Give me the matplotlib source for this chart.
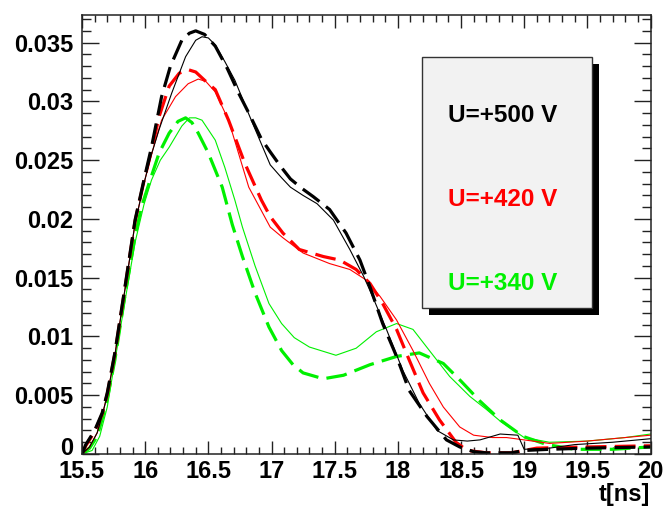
import matplotlib
matplotlib.use("Agg")
import matplotlib.pyplot as plt
from matplotlib.patches import Rectangle
from matplotlib.ticker import MultipleLocator, FixedLocator, FixedFormatter
from matplotlib.transforms import ScaledTranslation, blended_transform_factory

# ---------------- data ----------------
t_b_dash = [15.50, 15.53, 15.60, 15.66, 15.70, 15.76, 15.84, 15.92, 15.99, 16.05, 16.13, 16.20, 16.29, 16.35,
            16.40, 16.47, 16.555, 16.65, 16.74, 16.83, 16.92, 16.99, 17.07, 17.15, 17.24, 17.33, 17.46, 17.59,
            17.70, 17.78, 17.88, 17.99, 18.09, 18.23, 18.385, 18.49, 18.60, 18.70, 18.90, 19.00, 19.20, 19.50, 20.00]
v_b_dash = [0.0000, 0.0008, 0.0020, 0.0035, 0.0052, 0.0086, 0.0142, 0.0199, 0.0233, 0.0261, 0.0304, 0.0330, 0.0352, 0.0358,
            0.0360, 0.0357, 0.0347, 0.0328, 0.0307, 0.0288, 0.0268, 0.0257, 0.0245, 0.0234, 0.0226, 0.0219, 0.0208, 0.0188,
            0.0165, 0.0142, 0.0111, 0.0083, 0.0054, 0.0032, 0.0012, 0.0006, 0.0002, 0.0001, 0.0001, 0.0003, 0.0004, 0.0005, 0.0006]

t_b_sol = [15.50, 15.56, 15.62, 15.66, 15.70, 15.76, 15.84, 15.92, 15.99, 16.05, 16.11, 16.21, 16.32, 16.40, 16.45,
           16.50, 16.555, 16.63, 16.71, 16.84, 16.99, 17.08, 17.15, 17.25, 17.36, 17.49, 17.62, 17.73, 17.80, 17.91,
           18.04, 18.17, 18.31, 18.44, 18.55, 18.65, 18.81, 18.95, 19.00, 19.20, 19.40, 19.70, 20.00]
v_b_sol = [0.0000, 0.0006, 0.0018, 0.0033, 0.0050, 0.0084, 0.0140, 0.0196, 0.0230, 0.0255, 0.0276, 0.0307, 0.0338, 0.0352, 0.0355,
           0.0354, 0.0348, 0.0334, 0.0318, 0.0284, 0.0246, 0.0235, 0.0227, 0.0220, 0.0213, 0.0199, 0.0174, 0.0151, 0.0134, 0.0106,
           0.0071, 0.0043, 0.0020, 0.0012, 0.0011, 0.0012, 0.0017, 0.0016, 0.0004, 0.0005, 0.0008, 0.0010, 0.0013]

t_r_dash = [15.50, 15.53, 15.60, 15.66, 15.70, 15.76, 15.84, 15.92, 15.99, 16.05, 16.11, 16.19, 16.27, 16.34, 16.40,
            16.47, 16.555, 16.66, 16.79, 16.92, 16.99, 17.09, 17.22, 17.41, 17.54, 17.67, 17.78, 17.88, 17.99, 18.09,
            18.20, 18.33, 18.46, 18.55, 18.70, 18.90, 19.10, 19.50, 20.00]
v_r_dash = [0.0000, 0.0007, 0.0019, 0.0034, 0.0051, 0.0085, 0.0141, 0.0198, 0.0232, 0.0258, 0.0287, 0.0313, 0.0324, 0.0327, 0.0325,
            0.0318, 0.0310, 0.0284, 0.0247, 0.0216, 0.0202, 0.0188, 0.0174, 0.0168, 0.0165, 0.0157, 0.0145, 0.0128, 0.0106, 0.0080,
            0.0052, 0.0029, 0.0010, 0.0003, 0.0001, 0.0001, 0.0005, 0.0006, 0.0007]

t_r_sol = [15.50, 15.56, 15.62, 15.66, 15.70, 15.76, 15.84, 15.92, 15.99, 16.05, 16.13, 16.24, 16.34, 16.42, 16.48,
           16.555, 16.66, 16.82, 16.99, 17.09, 17.25, 17.46, 17.62, 17.75, 17.86, 17.99, 18.12, 18.25, 18.36, 18.49,
           18.60, 18.75, 18.86, 19.00, 19.20, 19.50, 19.80, 20.00]
v_r_sol = [0.0000, 0.0006, 0.0018, 0.0033, 0.0050, 0.0084, 0.0140, 0.0196, 0.0230, 0.0255, 0.0284, 0.0304, 0.0315, 0.0319, 0.0317,
           0.0308, 0.0284, 0.0227, 0.0193, 0.0184, 0.0171, 0.0162, 0.0157, 0.0148, 0.0134, 0.0114, 0.0088, 0.0060, 0.0040, 0.0023,
           0.0016, 0.0014, 0.0014, 0.0012, 0.0009, 0.0011, 0.0014, 0.0016]

t_g_dash = [15.50, 15.56, 15.62, 15.66, 15.70, 15.76, 15.84, 15.92, 15.97, 16.03, 16.11, 16.19, 16.26, 16.32, 16.37,
            16.42, 16.50, 16.61, 16.69, 16.77, 16.87, 16.98, 17.08, 17.17, 17.25, 17.41, 17.57, 17.78, 17.99, 18.17,
            18.36, 18.50, 18.65, 18.81, 18.99, 19.18, 19.40, 19.70, 20.00]
v_g_dash = [0.0000, 0.0005, 0.0015, 0.0030, 0.0047, 0.0080, 0.0135, 0.0185, 0.0210, 0.0230, 0.0256, 0.0273, 0.0283, 0.0286, 0.0282,
            0.0273, 0.0256, 0.0227, 0.0195, 0.0168, 0.0137, 0.0108, 0.0088, 0.0076, 0.0069, 0.0064, 0.0067, 0.0076, 0.0083, 0.0086,
            0.0077, 0.0062, 0.0045, 0.0029, 0.0015, 0.0008, 0.0004, 0.0004, 0.0006]

t_g_sol = [15.50, 15.58, 15.64, 15.70, 15.74, 15.84, 15.92, 15.99, 16.05, 16.12, 16.19, 16.29, 16.35, 16.40, 16.45,
           16.555, 16.63, 16.71, 16.77, 16.87, 16.98, 17.08, 17.18, 17.30, 17.51, 17.67, 17.83, 17.99, 18.12, 18.25,
           18.41, 18.57, 18.70, 18.81, 19.00, 19.20, 19.50, 19.80, 20.00]
v_g_sol = [0.0000, 0.0003, 0.0015, 0.0040, 0.0066, 0.0130, 0.0180, 0.0212, 0.0233, 0.0250, 0.0261, 0.0279, 0.0286, 0.0286, 0.0284,
           0.0267, 0.0244, 0.0216, 0.0193, 0.0160, 0.0128, 0.0111, 0.0099, 0.0091, 0.0084, 0.0090, 0.0104, 0.0111, 0.0106, 0.0088,
           0.0066, 0.0049, 0.0038, 0.0028, 0.0014, 0.0010, 0.0011, 0.0014, 0.0017]

x_ticks = [15.5, 16, 16.5, 17, 17.5, 18, 18.5, 19, 19.5, 20]
x_labels = ["15.5", "16", "16.5", "17", "17.5", "18", "18.5", "19", "19.5", "20"]
y_ticks = [0, 0.005, 0.01, 0.015, 0.02, 0.025, 0.03, 0.035]
y_labels = ["0", "0.005", "0.01", "0.015", "0.02", "0.025", "0.03", "0.035"]
legend_labels = ["U=+500 V", "U=+420 V", "U=+340 V"]
colors = ["black", "#ff0000", "#00f000"]
x_title = "t[ns]"

# ---------------- figure ----------------
plt.rcParams['font.family'] = ['Liberation Sans', 'DejaVu Sans']
W, H = 664, 513
fig = plt.figure(figsize=(W / 100, H / 100), dpi=100)
L, R, T, B = 82, 650.5, 15, 454
ax = fig.add_axes([L / W, (H - B) / H, (R - L) / W, (B - T) / H])

series = [
    (t_g_dash, v_g_dash, colors[2], True), (t_g_sol, v_g_sol, colors[2], False),
    (t_r_dash, v_r_dash, colors[1], True), (t_r_sol, v_r_sol, colors[1], False),
    (t_b_dash, v_b_dash, colors[0], True), (t_b_sol, v_b_sol, colors[0], False),
]
for t, v, c, dashed in series:
    if dashed:
        ax.plot(t, v, color=c, lw=2.3, ls=(0, (6.5, 2.6)), solid_capstyle='butt')
    else:
        ax.plot(t, v, color=c, lw=0.8)

ax.set_xlim(15.5, 20.0)
ax.set_ylim(0, 0.03735)

# the "0" label is drawn separately, lifted slightly as in the reference
y_fmt_labels = [""] + y_labels[1:]
ax.xaxis.set_major_locator(FixedLocator(x_ticks))
ax.xaxis.set_major_formatter(FixedFormatter(x_labels))
ax.xaxis.set_minor_locator(MultipleLocator(0.1))
ax.yaxis.set_major_locator(FixedLocator(y_ticks))
ax.yaxis.set_major_formatter(FixedFormatter(y_fmt_labels))
ax.yaxis.set_minor_locator(MultipleLocator(0.001))

for s in ax.spines.values():
    s.set_linewidth(1.1)
    s.set_color('#222222')

ax.tick_params(axis='x', which='major', direction='in', length=9.6, width=1.0, top=True, bottom=True,
               labelsize=17, pad=4.5, color='#222222')
ax.tick_params(axis='x', which='minor', direction='in', length=5.0, width=1.0, top=True, bottom=True, color='#222222')
ax.tick_params(axis='y', which='major', direction='in', length=12.2, width=1.0, left=True, right=True,
               labelsize=17, pad=6.5, color='#222222')
ax.tick_params(axis='y', which='minor', direction='in', length=6.2, width=1.0, left=True, right=True, color='#222222')
for lab in ax.get_xticklabels() + ax.get_yticklabels():
    lab.set_fontweight('bold')

tr0 = blended_transform_factory(ax.transAxes, ax.transData) + ScaledTranslation(-6.5 / 72, 4.0 / 72, fig.dpi_scale_trans)
ax.text(0, y_ticks[0], y_labels[0], transform=tr0, ha='right', va='center', fontsize=17, fontweight='bold')

fig.text(650 / W, 1 - 495 / H, x_title, ha='right', va='center', fontsize=17, fontweight='bold')

# legend-like box with shadow
bx0, bx1, by0, by1 = 422, 592, 57, 308
sh = 7
fig.patches.append(Rectangle(((bx0 + sh) / W, 1 - (by1 + sh) / H), (bx1 - bx0) / W, (by1 - by0) / H,
                             transform=fig.transFigure, facecolor='black', edgecolor='none', zorder=5))
fig.patches.append(Rectangle((bx0 / W, 1 - by1 / H), (bx1 - bx0) / W, (by1 - by0) / H,
                             transform=fig.transFigure, facecolor='#f2f2f2', edgecolor='#333333',
                             linewidth=1.0, zorder=6))
for lab, c, yc in zip(legend_labels, colors, [116, 200, 283]):
    fig.text(448 / W, 1 - yc / H, lab, color=c, ha='left', va='center', fontsize=17.5,
             fontweight='bold', zorder=7)

fig.savefig("out.png", dpi=100)
